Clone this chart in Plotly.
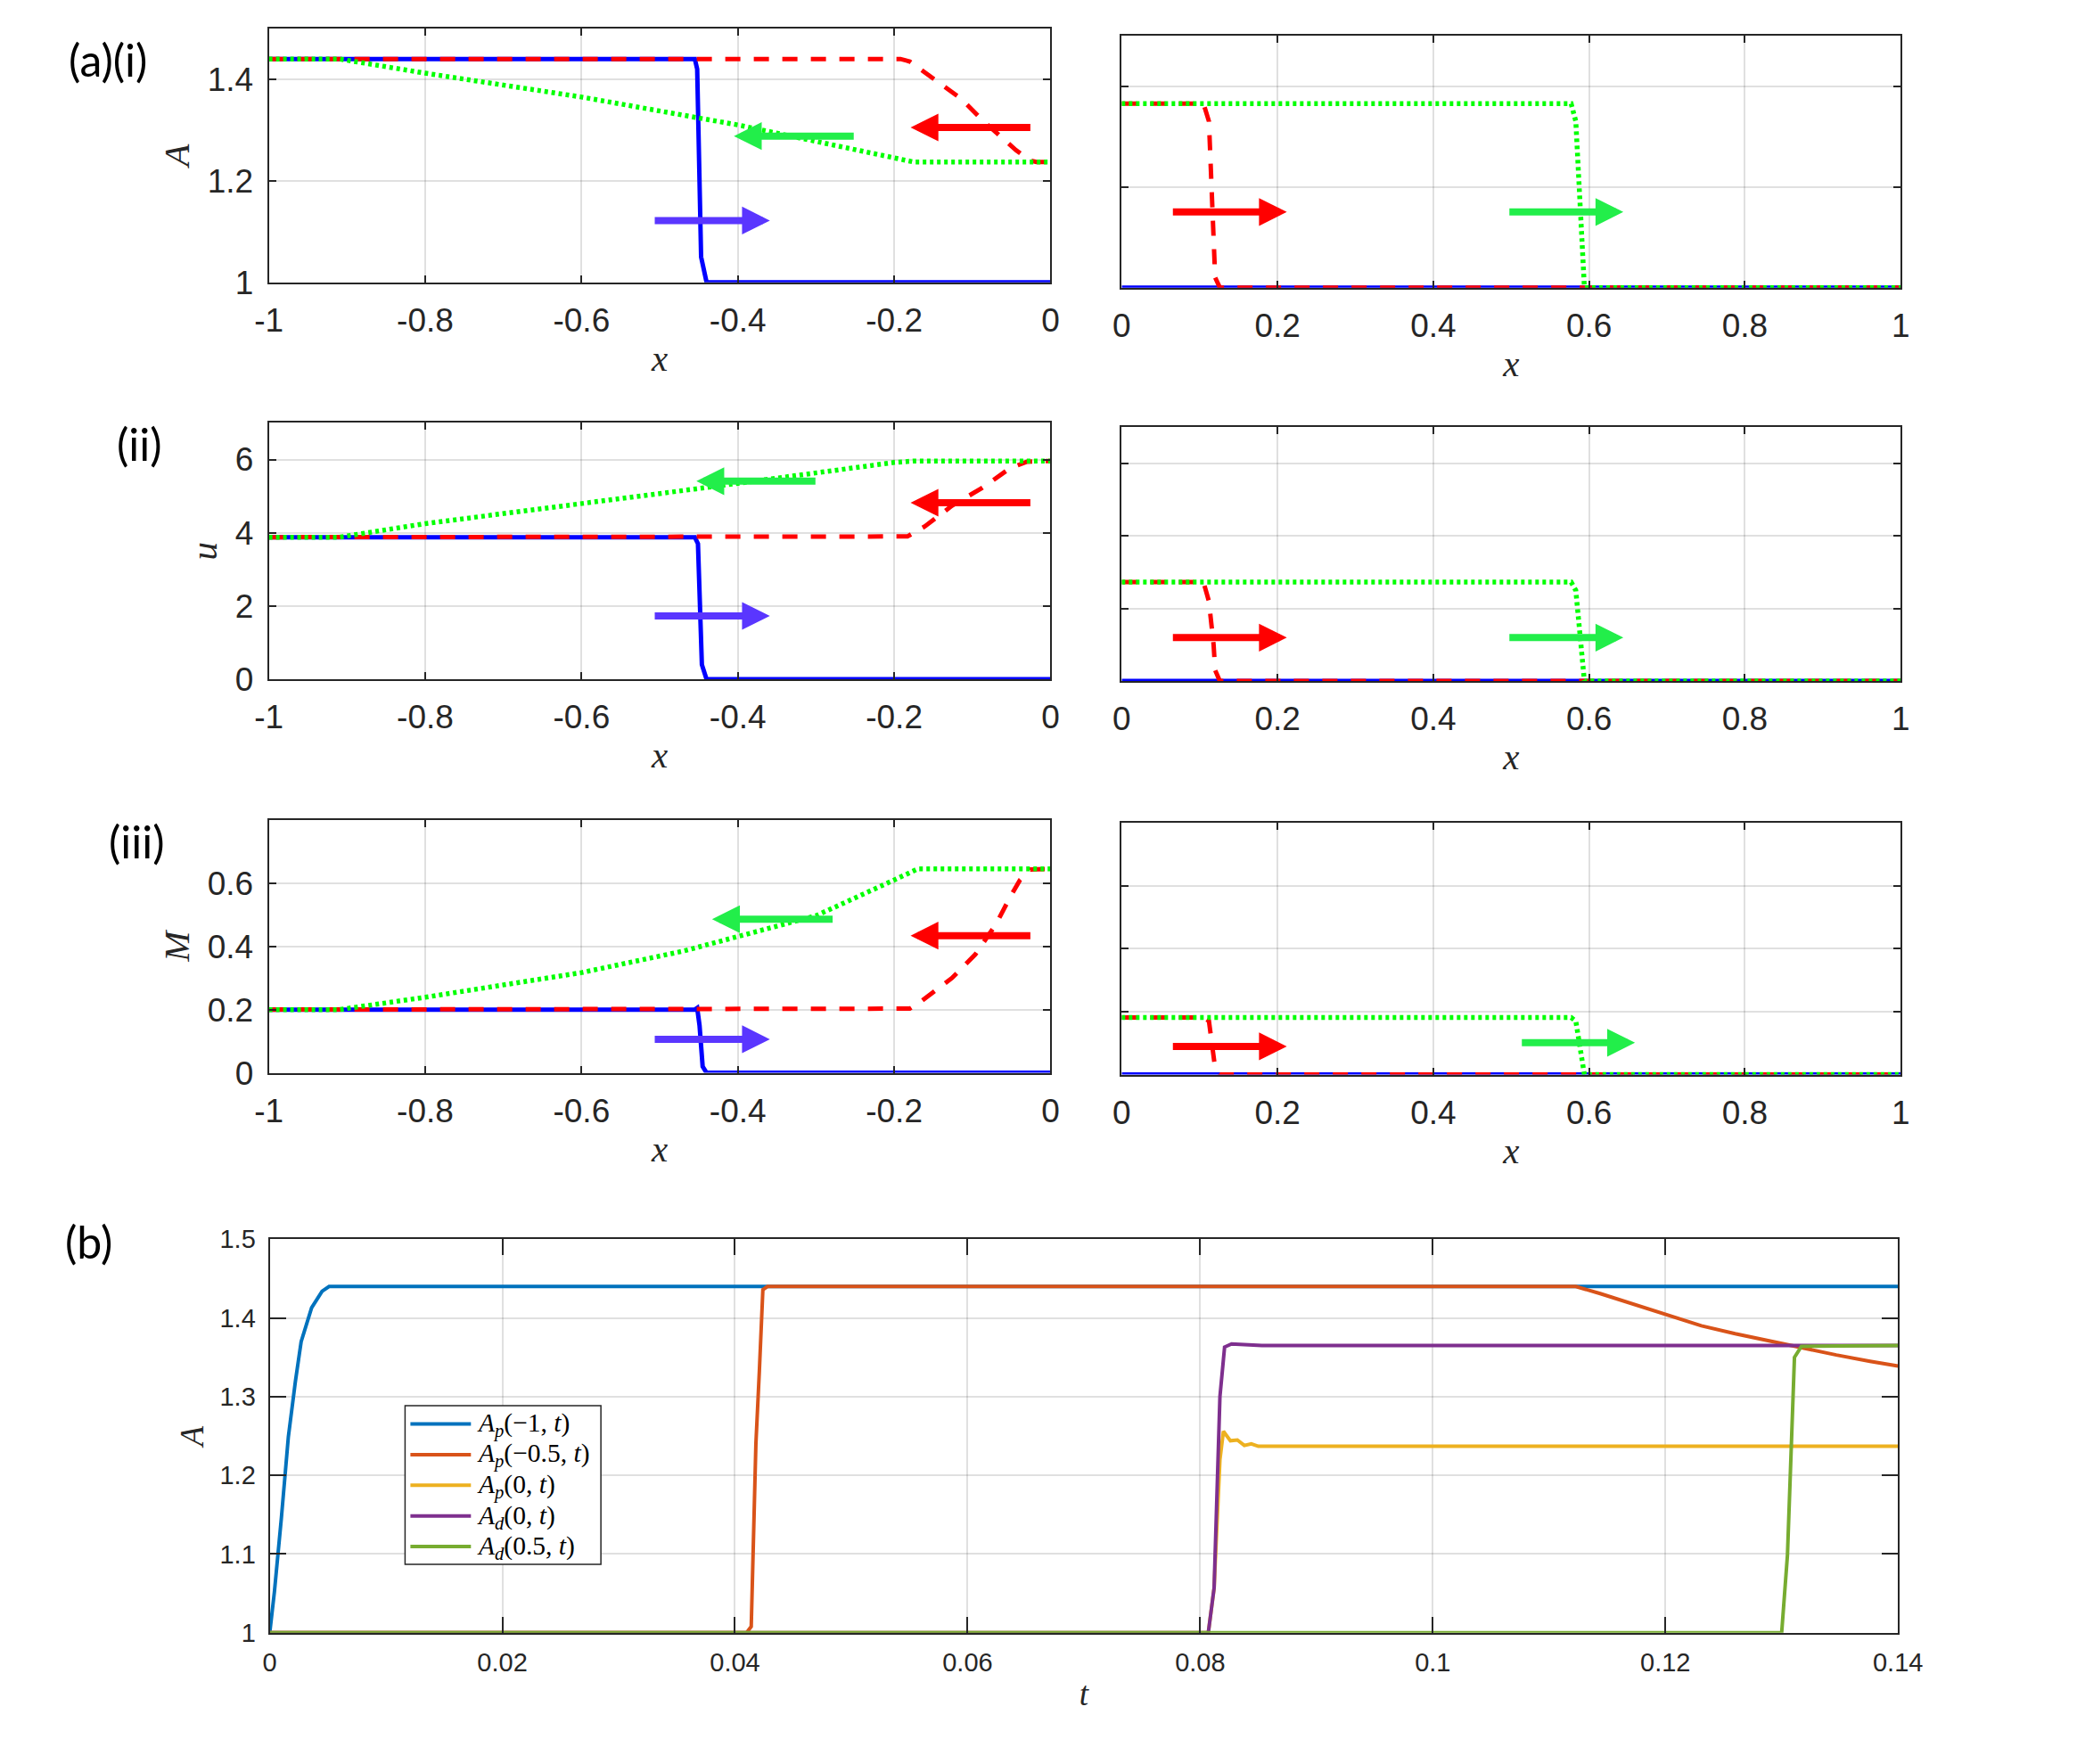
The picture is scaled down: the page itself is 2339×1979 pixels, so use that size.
import plotly.graph_objects as go

W, H = 2339, 1979

# ---------------- (a) profiles ----------------
# row (i): A
i_left_blue_x = [-1, -0.455, -0.452, -0.447, -0.440, 0]
i_left_blue_y = [1.44, 1.44, 1.42, 1.05, 1.0, 1.0]
i_left_red_x = [-1, -0.192, -0.180, -0.148, -0.113, -0.087, -0.061, -0.044, -0.026, -0.018, 0]
i_left_red_y = [1.44, 1.44, 1.435, 1.40, 1.36, 1.319, 1.284, 1.26, 1.24, 1.237, 1.237]
i_left_green_x = [-1, -0.91, -0.8, -0.6, -0.4, -0.3, -0.2, -0.175, 0]
i_left_green_y = [1.44, 1.44, 1.412, 1.365, 1.31, 1.278, 1.246, 1.237, 1.237]
i_right_blue_x = [0, 1]
i_right_blue_y = [1.0, 1.0]
i_right_red_x = [0, 0.105, 0.112, 0.116, 0.120, 0.126, 1]
i_right_red_y = [1.365, 1.365, 1.33, 1.15, 1.02, 1.0, 1.0]
i_right_green_x = [0, 0.577, 0.583, 0.590, 0.594, 1]
i_right_green_y = [1.365, 1.365, 1.33, 1.10, 1.0, 1.0]

# row (ii): u
ii_left_blue_x = [-1, -0.455, -0.451, -0.446, -0.440, 0]
ii_left_blue_y = [3.88, 3.88, 3.7, 0.4, 0, 0]
ii_left_red_x = [-1, -0.192, -0.183, -0.161, -0.126, -0.087, -0.052, -0.030, -0.015, 0]
ii_left_red_y = [3.88, 3.88, 3.9, 4.17, 4.74, 5.23, 5.76, 5.94, 5.96, 5.96]
ii_left_green_x = [-1, -0.91, -0.8, -0.6, -0.453, -0.4, -0.3, -0.2, -0.174, 0]
ii_left_green_y = [3.88, 3.88, 4.25, 4.78, 5.2, 5.35, 5.65, 5.92, 5.96, 5.96]
ii_right_blue_x = [0, 1]
ii_right_blue_y = [0, 0]
ii_right_red_x = [0, 0.105, 0.112, 0.118, 0.120, 0.126, 1]
ii_right_red_y = [2.73, 2.73, 2.2, 1.0, 0.3, 0, 0]
ii_right_green_x = [0, 0.577, 0.583, 0.590, 0.594, 1]
ii_right_green_y = [2.73, 2.73, 2.5, 0.7, 0, 0]

# row (iii): M
iii_left_blue_x = [-1, -0.455, -0.452, -0.449, -0.445, -0.440, 0]
iii_left_blue_y = [0.2, 0.2, 0.205, 0.15, 0.02, 0, 0]
iii_left_red_x = [-1, -0.192, -0.18, -0.166, -0.126, -0.096, -0.070, -0.052, -0.039, -0.026, -0.015, 0]
iii_left_red_y = [0.2, 0.2, 0.203, 0.225, 0.30, 0.375, 0.469, 0.554, 0.61, 0.643, 0.645, 0.645]
iii_left_green_x = [-1, -0.91, -0.8, -0.6, -0.47, -0.4, -0.3, -0.2, -0.17, 0]
iii_left_green_y = [0.2, 0.2, 0.239, 0.317, 0.385, 0.432, 0.497, 0.61, 0.645, 0.645]
iii_right_blue_x = [0, 1]
iii_right_blue_y = [0, 0]
iii_right_red_x = [0, 0.105, 0.112, 0.116, 0.120, 0.126, 1]
iii_right_red_y = [0.181, 0.181, 0.17, 0.09, 0.02, 0, 0]
iii_right_green_x = [0, 0.577, 0.583, 0.590, 0.594, 1]
iii_right_green_y = [0.181, 0.181, 0.17, 0.05, 0, 0]

# direction arrows: panel, tail x, tip x, y, colour key
arrow_panel = ["iL", "iL", "iL", "iR", "iR",
               "iiL", "iiL", "iiL", "iiR", "iiR",
               "iiiL", "iiiL", "iiiL", "iiiR", "iiiR"]
arrow_tail_x = [-0.024, -0.25, -0.508, 0.064, 0.496,
                -0.299, -0.024, -0.508, 0.064, 0.496,
                -0.277, -0.024, -0.508, 0.064, 0.512]
arrow_tip_x = [-0.179, -0.405, -0.359, 0.212, 0.644,
               -0.453, -0.179, -0.359, 0.212, 0.644,
               -0.433, -0.179, -0.359, 0.212, 0.659]
arrow_y = [1.305, 1.288, 1.1216, 1.15, 1.15,
           5.41, 4.82, 1.73, 1.20, 1.20,
           0.486, 0.434, 0.106, 0.0895, 0.101]
arrow_kind = ["red", "green", "blue", "red", "green",
              "green", "red", "blue", "red", "green",
              "green", "red", "blue", "red", "green"]

left_x_ticks = [-1, -0.8, -0.6, -0.4, -0.2, 0]
left_x_labels = ["-1", "-0.8", "-0.6", "-0.4", "-0.2", "0"]
right_x_ticks = [0, 0.2, 0.4, 0.6, 0.8, 1]
right_x_labels = ["0", "0.2", "0.4", "0.6", "0.8", "1"]
i_y_ticks = [1, 1.2, 1.4]
i_y_labels = ["1", "1.2", "1.4"]
ii_y_ticks = [0, 2, 4, 6]
ii_y_labels = ["0", "2", "4", "6"]
iii_y_ticks = [0, 0.2, 0.4, 0.6]
iii_y_labels = ["0", "0.2", "0.4", "0.6"]

# ---------------- (b) time histories ----------------
b_p_m1_t = [0, 0.0004, 0.001, 0.0016, 0.0022, 0.0027, 0.0036, 0.0045, 0.0051, 0.14]
b_p_m1_A = [1, 1.052, 1.146, 1.249, 1.319, 1.37, 1.413, 1.434, 1.44, 1.44]
b_p_m05_t = [0, 0.0410, 0.0414, 0.0418, 0.0421, 0.0424, 0.0428, 0.1123, 0.1144, 0.1173,
             0.1202, 0.1231, 0.126, 0.1289, 0.1318, 0.1347, 0.1376, 0.14]
b_p_m05_A = [1, 1, 1.008, 1.24, 1.333, 1.436, 1.44, 1.44, 1.431, 1.417,
             1.403, 1.39, 1.38, 1.371, 1.361, 1.353, 1.345, 1.339]
b_p_0_t = [0, 0.0807, 0.0812, 0.0817, 0.0820, 0.0826, 0.0832, 0.0838, 0.0844, 0.085, 0.14]
b_p_0_A = [1, 1, 1.057, 1.22, 1.256, 1.244, 1.245, 1.238, 1.24, 1.237, 1.237]
b_d_0_t = [0, 0.0807, 0.0812, 0.0817, 0.0821, 0.0827, 0.0853, 0.14]
b_d_0_A = [1, 1, 1.057, 1.30, 1.363, 1.367, 1.365, 1.365]
b_d_05_t = [0, 0.1300, 0.1305, 0.1308, 0.1311, 0.1317, 0.14]
b_d_05_A = [1, 1, 1.099, 1.24, 1.35, 1.364, 1.365]
b_names = ["<i>A</i><sub><i>p</i></sub>(\u22121, <i>t</i>)",
           "<i>A</i><sub><i>p</i></sub>(\u22120.5, <i>t</i>)",
           "<i>A</i><sub><i>p</i></sub>(0, <i>t</i>)",
           "<i>A</i><sub><i>d</i></sub>(0, <i>t</i>)",
           "<i>A</i><sub><i>d</i></sub>(0.5, <i>t</i>)"]
b_x_ticks = [0, 0.02, 0.04, 0.06, 0.08, 0.1, 0.12, 0.14]
b_x_labels = ["0", "0.02", "0.04", "0.06", "0.08", "0.1", "0.12", "0.14"]
b_y_ticks = [1, 1.1, 1.2, 1.3, 1.4, 1.5]
b_y_labels = ["1", "1.1", "1.2", "1.3", "1.4", "1.5"]

# ---------------- styling ----------------
BLUE, RED, GREEN = "#0000ff", "#ff0000", "#00ff00"
ARROW_COL = {"red": "#ff0000", "green": "#22ee4a", "blue": "#5a36ff"}
B_COLORS = ["#0072BD", "#D95319", "#EDB120", "#7E2F8E", "#77AC30"]
AX = "#262626"
SANS = "Liberation Sans"
SERIF = "Liberation Serif"

# the photographed page shows the figure slightly inset; place things in picture pixels
PAD, SC = 14, 0.9825


def fx(p):
    return (p - PAD) / (W * SC)


def fy(p):
    return 1 - (p - PAD) / (H * SC)


def base_axis(ticklen=8, size=37):
    return dict(showline=True, linecolor=AX, linewidth=2, mirror="ticks",
                ticks="inside", ticklen=ticklen, tickwidth=1.5, tickcolor=AX,
                showgrid=True, gridcolor="rgba(38,38,38,0.14)", gridwidth=1.5,
                zeroline=False, tickfont=dict(family=SANS, size=size, color=AX))


fig = go.Figure()

rows = [
    ("iL", "x", "y", i_left_blue_x, i_left_blue_y, i_left_red_x, i_left_red_y, i_left_green_x, i_left_green_y),
    ("iR", "x2", "y2", i_right_blue_x, i_right_blue_y, i_right_red_x, i_right_red_y, i_right_green_x, i_right_green_y),
    ("iiL", "x3", "y3", ii_left_blue_x, ii_left_blue_y, ii_left_red_x, ii_left_red_y, ii_left_green_x, ii_left_green_y),
    ("iiR", "x4", "y4", ii_right_blue_x, ii_right_blue_y, ii_right_red_x, ii_right_red_y, ii_right_green_x, ii_right_green_y),
    ("iiiL", "x5", "y5", iii_left_blue_x, iii_left_blue_y, iii_left_red_x, iii_left_red_y, iii_left_green_x, iii_left_green_y),
    ("iiiR", "x6", "y6", iii_right_blue_x, iii_right_blue_y, iii_right_red_x, iii_right_red_y, iii_right_green_x, iii_right_green_y),
]
panel_axes = {}
for key, xa, ya, bx, by, rx, ry, gx, gy in rows:
    panel_axes[key] = (xa, ya)
    fig.add_trace(go.Scatter(x=bx, y=by, mode="lines", xaxis=xa, yaxis=ya, showlegend=False,
                             line=dict(color=BLUE, width=5)))
    fig.add_trace(go.Scatter(x=rx, y=ry, mode="lines", xaxis=xa, yaxis=ya, showlegend=False,
                             line=dict(color=RED, width=5, dash="17px,15px")))
    fig.add_trace(go.Scatter(x=gx, y=gy, mode="lines", xaxis=xa, yaxis=ya, showlegend=False,
                             line=dict(color=GREEN, width=5.5, dash="4px,4px")))

b_series = [(b_p_m1_t, b_p_m1_A), (b_p_m05_t, b_p_m05_A), (b_p_0_t, b_p_0_A),
            (b_d_0_t, b_d_0_A), (b_d_05_t, b_d_05_A)]
for (t, a), name, col in zip(b_series, b_names, B_COLORS):
    fig.add_trace(go.Scatter(x=t, y=a, mode="lines", name=name, xaxis="x7", yaxis="y7",
                             showlegend=False, line=dict(color=col, width=4)))

# arrows
annotations = []
shapes = []
for pan, tx, hx, y, kind in zip(arrow_panel, arrow_tail_x, arrow_tip_x, arrow_y, arrow_kind):
    xa, ya = panel_axes[pan]
    annotations.append(dict(x=hx, y=y, ax=tx, ay=y, xref=xa, yref=ya, axref=xa, ayref=ya,
                            text="", showarrow=True, arrowhead=2, arrowsize=0.78,
                            arrowwidth=8, arrowcolor=ARROW_COL[kind], standoff=0))

# panel labels
for txt, cx, cy in [("(a)(i)", 119, 65), ("(ii)", 155, 497), ("(iii)", 152, 943), ("(b)", 98, 1393)]:
    annotations.append(dict(x=fx(cx), y=fy(cy), xref="paper", yref="paper", text=txt,
                            xanchor="center", yanchor="middle",
                            showarrow=False, font=dict(family="Lato", size=50, color="black")))

# legend box for (b), drawn MATLAB-style (long line samples)
shapes.append(dict(type="rect", xref="paper", yref="paper", x0=fx(453), x1=fx(673),
                   y0=fy(1755), y1=fy(1577), line=dict(color=AX, width=1.5), fillcolor="white",
                   layer="above"))
for k, (name, col) in enumerate(zip(b_names, B_COLORS)):
    yk = 1597.5 + 34.4 * k
    shapes.append(dict(type="line", xref="paper", yref="paper", x0=fx(459), x1=fx(527),
                       y0=fy(yk), y1=fy(yk), line=dict(color=col, width=4), layer="above"))
    annotations.append(dict(x=fx(532), y=fy(yk + 1), xref="paper", yref="paper", text=name,
                            xanchor="left", yanchor="middle", showarrow=False,
                            font=dict(family=SERIF, size=29.5, color="black")))

layout = dict(autosize=True, margin=dict(l=0, r=0, t=0, b=0, pad=0),
              paper_bgcolor="white", plot_bgcolor="white", annotations=annotations,
              shapes=shapes, showlegend=False)

xtitle = dict(text="<i>x</i>", font=dict(family=SERIF, size=41, color=AX), standoff=8)

panels = [
    # x axis, y axis, x px span, y px span, xrange, yrange, x ticks, y ticks, ylabel
    ("xaxis", "yaxis", (300, 1178), (30, 315), [-1, 0], [1, 1.5], (left_x_ticks, left_x_labels), (i_y_ticks, i_y_labels), "A"),
    ("xaxis2", "yaxis2", (1258, 2133), (38, 321), [0, 1], [1, 1.5], (right_x_ticks, right_x_labels), (i_y_ticks, None), None),
    ("xaxis3", "yaxis3", (300, 1178), (473, 761), [-1, 0], [0, 7], (left_x_ticks, left_x_labels), (ii_y_ticks, ii_y_labels), "u"),
    ("xaxis4", "yaxis4", (1258, 2133), (478, 763), [0, 1], [0, 7], (right_x_ticks, right_x_labels), (ii_y_ticks, None), None),
    ("xaxis5", "yaxis5", (300, 1178), (919, 1203), [-1, 0], [0, 0.8], (left_x_ticks, left_x_labels), (iii_y_ticks, iii_y_labels), "M"),
    ("xaxis6", "yaxis6", (1258, 2133), (922, 1205), [0, 1], [0, 0.8], (right_x_ticks, right_x_labels), (iii_y_ticks, None), None),
]
for n, (xk, yk, xs, ys, xr, yr, xt, yt, ylab) in enumerate(panels):
    anchor_x = "x" if n == 0 else "x%d" % (n + 1)
    anchor_y = "y" if n == 0 else "y%d" % (n + 1)
    xa = base_axis()
    xa.update(domain=[fx(xs[0]), fx(xs[1])], range=xr, anchor=anchor_y,
              tickvals=xt[0], ticktext=xt[1], ticklabelstandoff=9, title=xtitle)
    ya = base_axis()
    ya.update(domain=[fy(ys[1]), fy(ys[0])], range=yr, anchor=anchor_x, tickvals=yt[0])
    if yt[1] is None:
        ya.update(showticklabels=False)
    else:
        ya.update(ticktext=yt[1], ticklabelstandoff=8,
                  title=dict(text="<i>%s</i>" % ylab, font=dict(family=SERIF, size=41, color=AX), standoff=7))
    layout[xk] = xa
    layout[yk] = ya

xb = base_axis(ticklen=18, size=29)
xb.update(domain=[fx(301), fx(2130)], range=[0, 0.14], anchor="y7",
          tickvals=b_x_ticks, ticktext=b_x_labels, ticklabelstandoff=6,
          title=dict(text="<i>t</i>", font=dict(family=SERIF, size=37, color=AX), standoff=8))
yb = base_axis(ticklen=18, size=29)
yb.update(domain=[fy(1832), fy(1390)], range=[1, 1.5], anchor="x7",
          tickvals=b_y_ticks, ticktext=b_y_labels, ticklabelstandoff=8,
          title=dict(text="<i>A</i>", font=dict(family=SERIF, size=37, color=AX), standoff=7))
layout["xaxis7"] = xb
layout["yaxis7"] = yb

fig.update_layout(**layout)
# figure fills the browser window; page margin removed
fig.write_html("out.html", default_width="100vw", default_height="100vh",
               config={"displayModeBar": False, "responsive": True},
               post_script="document.body.style.margin='0px';document.body.style.overflow='hidden';")
